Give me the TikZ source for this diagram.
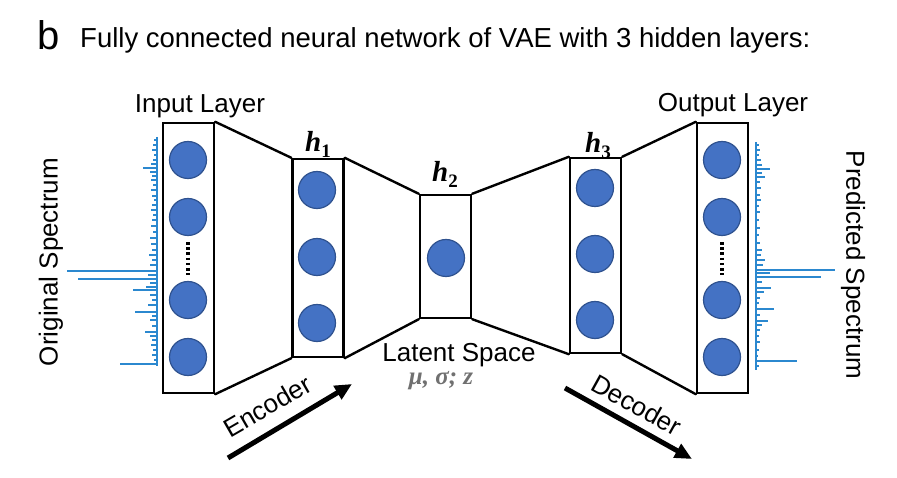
\documentclass[tikz,border=0pt]{standalone}
\usepackage{fontspec}
\setmainfont{Liberation Sans}
\newfontfamily\serifx{Liberation Serif}
\usetikzlibrary{arrows.meta,calc}
\definecolor{nodeblue}{HTML}{4472C4}
\definecolor{nodeedge}{HTML}{2F528F}
\definecolor{specblue}{HTML}{2B88CF}
\definecolor{latgray}{HTML}{707070}
\begin{document}
\begin{tikzpicture}[x=1pt,y=-1pt,
  layerbox/.style={draw=black, line width=2.4pt, minimum width=51pt, inner sep=0pt},
  neuron/.style={circle, fill=nodeblue, draw=nodeedge, line width=1.2pt, minimum size=37pt, inner sep=0pt},
  link/.style={black, line width=2.4pt, line cap=round},
  lbl/.style={inner sep=0pt, font=\fontsize{26}{26}\selectfont},
  hlbl/.style={inner sep=0pt, font=\serifx\bfseries\itshape\fontsize{29}{29}\selectfont},
  bigarrow/.style={black, line width=5pt, -{Triangle[length=17pt,width=15pt]}},
  spec/.style={specblue, line width=1.1pt},
  dotsline/.style={black, line width=3.5pt, dash pattern=on 2.6pt off 2.6pt}
]
\useasboundingbox (0,0) rectangle (897,478);

% title
\node[anchor=base west, inner sep=0pt, font=\fontsize{40}{40}\selectfont] (blabel) at (37,50) {b};
\node[anchor=base west, inner sep=0pt, font=\fontsize{27.5}{27.5}\selectfont] (title) at (80,48) {Fully connected neural network of VAE with 3 hidden layers:};

% spectra
\draw[spec] (157,137) -- (157,366);
\foreach \yy/\xx in {140/154,145/153,150/152,155/154,160/153,164/151,168/143,172/150,176/152,180/151,185/153,190/151,196/152,200/154,205/152,210/151,215/153,220/152,226/151,232/153,238/150,244/151,250/152,255/149,260/152,265/150,271/67,275/148,279/78,283/150,287/146,290/133,295/150,300/152,305/148,312/135,316/152,320/150,326/152,332/145,336/150,340/152,345/151,350/153,355/152,360/154,364/120}
  \draw[spec] (157,\yy) -- (\xx,\yy);
\draw[spec] (756,142) -- (756,370);
\foreach \yy/\xx in {145/759,150/760,155/759,160/761,165/762,169/770,173/762,177/765,182/760,188/761,195/760,200/761,206/759,212/760,220/759,228/760,235/759,243/760,250/762,255/761,260/765,265/763,270/835,273/770,277/821,282/762,288/771,292/764,298/760,303/759,309/774,315/760,321/768,325/762,330/760,336/759,342/760,350/759,356/758,361/797,366/759}
  \draw[spec] (756,\yy) -- (\xx,\yy);

% layers
\node[layerbox, minimum height=270pt] (in) at (188.5,258) {};
\node[layerbox, minimum height=198pt] (h1) at (318,258) {};
\node[layerbox, minimum height=123pt] (h2) at (445.5,256.5) {};
\node[layerbox, minimum height=195pt] (h3) at (595.5,255.5) {};
\node[layerbox, minimum height=270pt] (out) at (722.5,258) {};

% connectors
\draw[link] (in.north east) -- (h1.north west);
\draw[link] (in.south east) -- (h1.south west);
\draw[link] (h1.north east) -- (h2.north west);
\draw[link] (h1.south east) -- (h2.south west);
\draw[link] (h2.north east) -- (h3.north west);
\draw[link] (h2.south east) -- (h3.south west);
\draw[link] (h3.north east) -- (out.north west);
\draw[link] (h3.south east) -- (out.south west);

% neurons
\node[neuron] (i1) at (188,160) {};
\node[neuron] (i2) at (188,217) {};
\node[neuron] (i3) at (188,300) {};
\node[neuron] (i4) at (188,357) {};
\draw[dotsline] ($(i2.south)+(0,6)$) -- ($(i3.north)+(0,-6)$);
\node[neuron] (a1) at (317,190) {};
\node[neuron] (a2) at (317,257) {};
\node[neuron] (a3) at (317,323) {};
\node[neuron] (b1) at (446,258) {};
\node[neuron] (c1) at (595,188) {};
\node[neuron] (c2) at (595,254) {};
\node[neuron] (c3) at (595,320) {};
\node[neuron] (o1) at (722,160) {};
\node[neuron] (o2) at (722,217) {};
\node[neuron] (o3) at (722,300) {};
\node[neuron] (o4) at (722,357) {};
\draw[dotsline] ($(o2.south)+(0,6)$) -- ($(o3.north)+(0,-6)$);

% labels
\node[lbl, anchor=base] (inlbl) at (200,113) {Input Layer};
\node[lbl, anchor=base] (outlbl) at (733,112) {Output Layer};
\node[lbl, anchor=base] (latlbl) at (459,361) {Latent Space};
\node[inner sep=0pt, anchor=base, text=latgray, font=\serifx\bfseries\itshape\fontsize{25}{25}\selectfont] (musig) at (441,384) {μ, σ; z};
\node[hlbl, anchor=base] (h1l) at (318,152) {h\raisebox{-0.18em}{\fontsize{19}{19}\selectfont\bfseries\upshape 1}};
\node[hlbl, anchor=base] (h2l) at (445,182) {h\raisebox{-0.18em}{\fontsize{19}{19}\selectfont\bfseries\upshape 2}};
\node[hlbl, anchor=base] (h3l) at (598,153) {h\raisebox{-0.18em}{\fontsize{19}{19}\selectfont\bfseries\upshape 3}};
\node[lbl, rotate=90] (origl) at (51,262) {Original Spectrum};
\node[lbl, rotate=-90] (predl) at (853,265) {Predicted Spectrum};

% encoder / decoder arrows
\coordinate (encS) at (228,458);
\coordinate (encE) at (352,384);
\coordinate (decS) at (565,388);
\coordinate (decE) at (692,459);
\draw[bigarrow] (encS) -- (encE);
\draw[bigarrow] (decS) -- (decE);
\node[lbl, anchor=base, rotate=30] (enclbl) at (272,414) {Encoder};
\node[lbl, anchor=base, rotate=-29] (declbl) at (632,413) {Decoder};
\end{tikzpicture}
\end{document}
